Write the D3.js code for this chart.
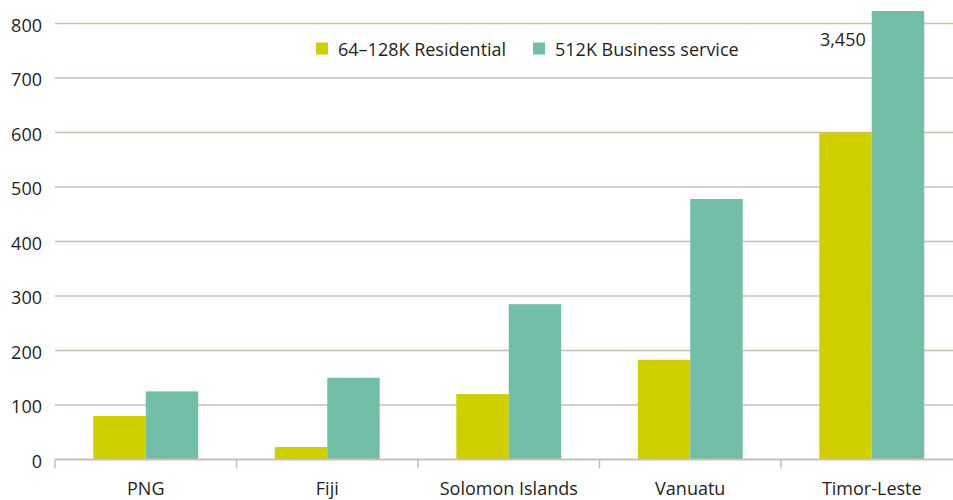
<!DOCTYPE html>
<html>
<head>
<meta charset="utf-8">
<script src="https://cdn.jsdelivr.net/npm/d3@7"></script>
<style>
  html, body { margin: 0; padding: 0; background: #fff; }
  svg { display: block; font-family: "Open Sans", "Noto Sans", sans-serif; }
</style>
</head>
<body>
<svg id="chart" width="953" height="500"></svg>
<script>
// Monthly broadband price by country (two service tiers)
const countries = ["PNG", "Fiji", "Solomon Islands", "Vanuatu", "Timor-Leste"];
const seriesNames = ["64\u2013128K Residential", "512K Business service"];
const residential = [80, 23, 120, 183, 600];
const business = [125, 150, 285, 478, 3450];
const yTicks = [0, 100, 200, 300, 400, 500, 600, 700, 800];
const colors = ["#d0cf00", "#73bea9"];

const svg = d3.select("#chart");
const margin = { left: 55, top: 11, bottom: 459.5 };
const plotRight = 962.5;
const fontSize = 18;

// y axis tops out slightly above 800; larger values are clipped at the top
const y = d3.scaleLinear().domain([0, 823]).range([margin.bottom, margin.top]).clamp(true);
const x0 = d3.scaleBand().domain(countries).range([margin.left, plotRight]).paddingInner(0).paddingOuter(0);
const groupW = x0.bandwidth() * 0.578;
const x1 = d3.scaleBand().domain([0, 1]).range([0, groupW]);

const gridColor = "#c9c0b1";
const textColor = "#231f20";

// horizontal gridlines
svg.append("g").selectAll("line")
  .data(yTicks.filter(d => d > 0))
  .join("line")
  .attr("x1", margin.left).attr("x2", 953)
  .attr("y1", d => y(d)).attr("y2", d => y(d))
  .attr("stroke", gridColor).attr("stroke-width", 1.5);

// y labels
svg.append("g").selectAll("text")
  .data(yTicks)
  .join("text")
  .attr("x", 42).attr("y", d => y(d) + 8.2)
  .attr("text-anchor", "end")
  .attr("font-size", fontSize)
  .attr("fill", textColor)
  .text(d => d);

// bars
const rows = countries.map((c, i) => ({ c, vals: [residential[i], business[i]] }));
const groups = svg.append("g").selectAll("g")
  .data(rows)
  .join("g")
  .attr("transform", d => `translate(${x0(d.c) + (x0.bandwidth() - groupW) / 2},0)`);
groups.selectAll("rect")
  .data(d => d.vals.map((v, k) => ({ v, k })))
  .join("rect")
  .attr("x", d => x1(d.k))
  .attr("width", x1.bandwidth())
  .attr("y", d => y(d.v))
  .attr("height", d => y(0) - y(d.v))
  .attr("fill", d => colors[d.k]);

// x axis
const xAxis = d3.axisBottom(x0).tickSize(0).tickPadding(0);
const gx = svg.append("g").attr("transform", `translate(0,${y(0)})`).call(xAxis);
gx.select(".domain").remove();
gx.selectAll("text")
  .attr("y", 35).attr("dy", 0)
  .attr("font-size", fontSize)
  .attr("font-family", "\"Open Sans\", \"Noto Sans\", sans-serif")
  .attr("fill", textColor);
svg.append("line")
  .attr("x1", margin.left).attr("x2", 953)
  .attr("y1", y(0)).attr("y2", y(0))
  .attr("stroke", gridColor).attr("stroke-width", 2);
svg.append("g").selectAll("line")
  .data(countries)
  .join("line")
  .attr("x1", d => x0(d)).attr("x2", d => x0(d))
  .attr("y1", y(0)).attr("y2", y(0) + 9)
  .attr("stroke", gridColor).attr("stroke-width", 1.5);

// value label for the clipped bar
const last = countries.length - 1;
svg.append("text")
  .attr("x", x0(countries[last]) + (x0.bandwidth() - groupW) / 2 + x1(1) - 6)
  .attr("y", 45.5)
  .attr("text-anchor", "end")
  .attr("font-size", fontSize)
  .attr("fill", textColor)
  .text(d3.format(",")(business[last]));

// legend
const legend = svg.append("g");
const legendX = [316, 533];
seriesNames.forEach((name, k) => {
  legend.append("rect")
    .attr("x", legendX[k]).attr("y", 42.5)
    .attr("width", 12).attr("height", 12)
    .attr("fill", colors[k]);
  legend.append("text")
    .attr("x", legendX[k] + 22).attr("y", 56)
    .attr("font-size", fontSize)
    .attr("fill", textColor)
    .text(name);
});
</script>
</body>
</html>
